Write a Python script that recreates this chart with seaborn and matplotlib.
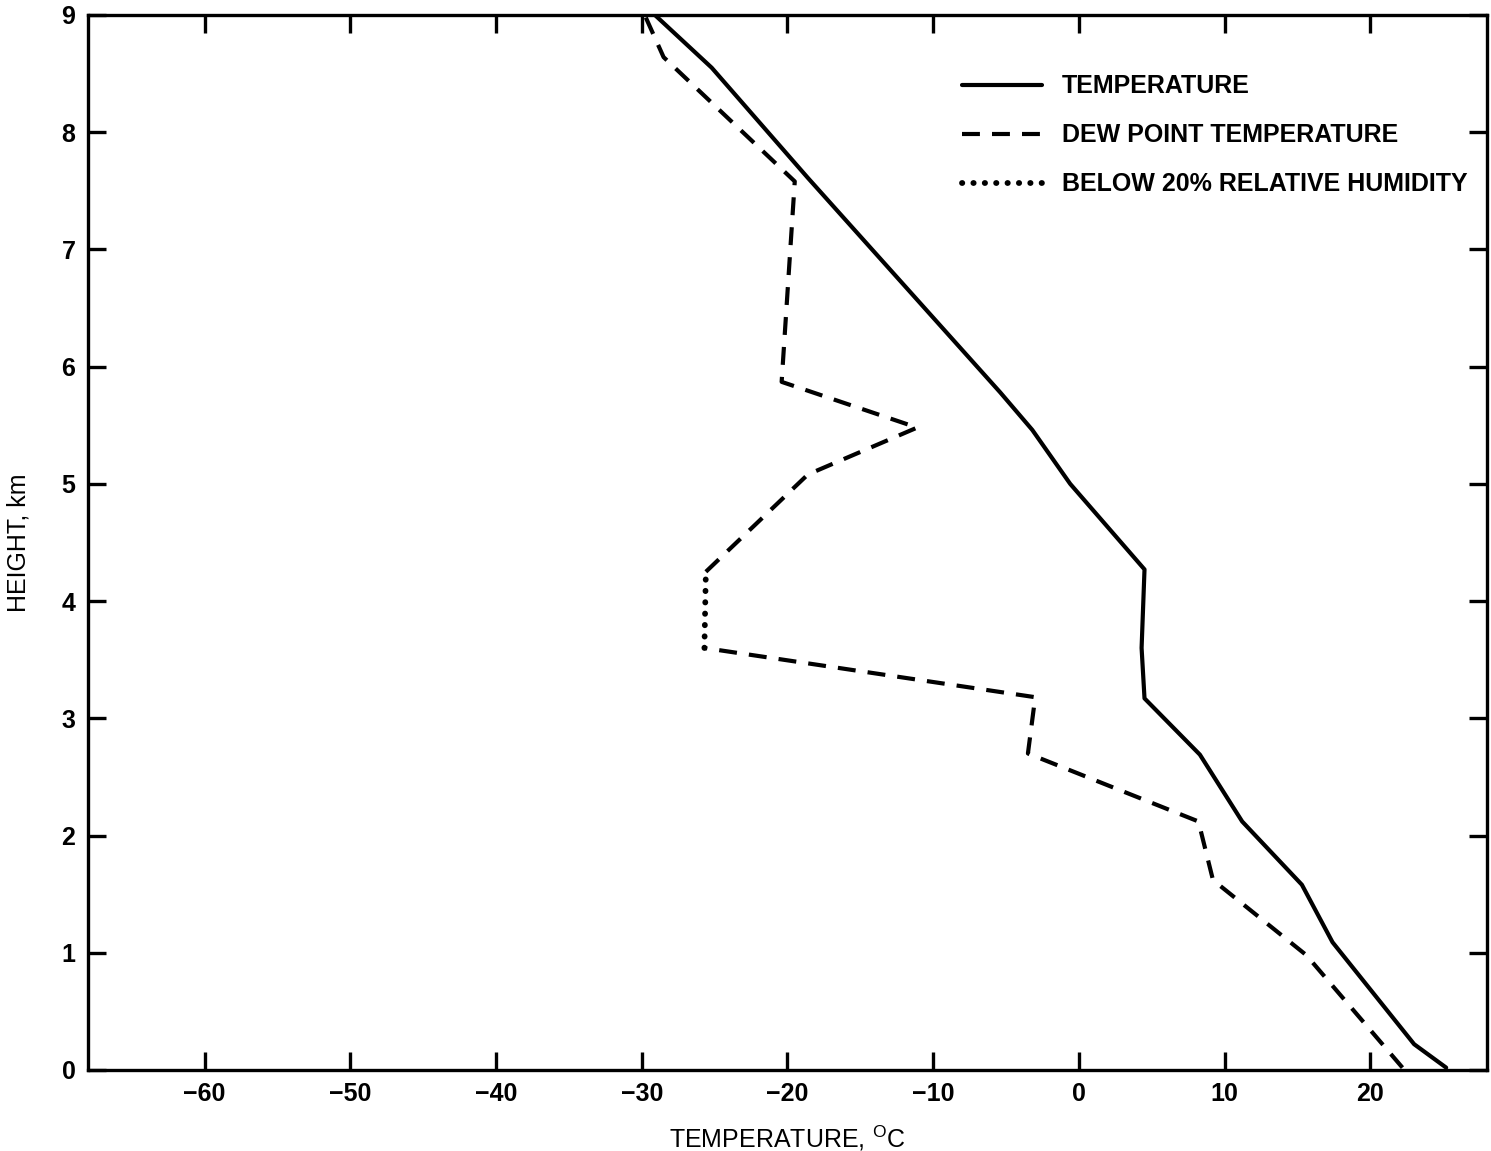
import matplotlib
matplotlib.use("Agg")
import matplotlib.pyplot as plt
import seaborn as sns

# temperature profile (deg C, km)
temp_c = [25.2, 23.0, 17.4, 15.3, 11.2, 8.3, 4.5, 4.3, 4.5, -0.6, -3.2, -5.4, -18.6, -25.2, -29.1]
temp_km = [0.02, 0.22, 1.09, 1.58, 2.12, 2.69, 3.17, 3.60, 4.27, 5.00, 5.46, 5.78, 7.61, 8.55, 9.0]

# dew point, lower part
dew_lo_c = [22.2, 15.6, 9.2, 8.2, -3.5, -3.0, -25.7]
dew_lo_km = [0.02, 0.98, 1.62, 2.12, 2.70, 3.18, 3.60]

# below 20% relative humidity
dry_c = [-25.7, -25.6]
dry_km = [3.60, 4.25]

# dew point, upper part
dew_hi_c = [-25.6, -18.6, -11.1, -20.4, -19.5, -28.5, -29.8]
dew_hi_km = [4.25, 5.08, 5.48, 5.87, 7.58, 8.64, 9.0]

x_ticks = [-60, -50, -40, -30, -20, -10, 0, 10, 20]
y_ticks = [0, 1, 2, 3, 4, 5, 6, 7, 8, 9]

sns.set_style("ticks")
plt.rcParams['font.family'] = ['Liberation Sans', 'DejaVu Sans']
plt.rcParams['mathtext.fontset'] = 'custom'
plt.rcParams['mathtext.rm'] = 'Liberation Sans'
plt.rcParams['mathtext.sf'] = 'Liberation Sans'
plt.rcParams['text.color'] = 'black'
plt.rcParams['axes.labelcolor'] = 'black'
plt.rcParams['axes.edgecolor'] = 'black'
plt.rcParams['xtick.color'] = 'black'
plt.rcParams['ytick.color'] = 'black'

fig = plt.figure(figsize=(14.91, 11.51), dpi=100)
ax = fig.add_axes([0.059, 0.0704, 0.9383, 0.9166])

lw = 3.0
dash = (4.3, 2.9)
sns.lineplot(x=temp_c, y=temp_km, sort=False, estimator=None, ax=ax,
             color="black", lw=lw, label="TEMPERATURE")
sns.lineplot(x=dew_lo_c, y=dew_lo_km, sort=False, estimator=None, ax=ax,
             color="black", lw=lw, label="DEW POINT TEMPERATURE")
ax.lines[-1].set_linestyle((0, dash))
sns.lineplot(x=dry_c, y=dry_km, sort=False, estimator=None, ax=ax,
             color="black", lw=4.2, label="BELOW 20% RELATIVE HUMIDITY")
ax.lines[-1].set_linestyle((0, (0.05, 1.9)))
ax.lines[-1].set_dash_capstyle("round")
sns.lineplot(x=dew_hi_c, y=dew_hi_km, sort=False, estimator=None, ax=ax,
             color="black", lw=lw, legend=False)
ax.lines[-1].set_linestyle((0, dash))

ax.set_xlim(-68, 28)
ax.set_ylim(0, 9)
ax.set_xticks(x_ticks)
ax.set_xticklabels([str(v).replace("-", "\u2212") for v in x_ticks])
ax.set_yticks(y_ticks)

for s in ax.spines.values():
    s.set_linewidth(2.4)
ax.tick_params(direction="in", length=13, width=2.4, labelsize=18,
               top=True, right=True, pad=9)
for t in ax.get_xticklabels() + ax.get_yticklabels():
    t.set_fontweight("bold")

ax.set_xlabel(r"TEMPERATURE, $^{\mathsf{O}}$C", fontsize=18, labelpad=12)
ax.set_ylabel("HEIGHT, km", fontsize=18, labelpad=22)

leg = ax.legend(loc="upper right", frameon=False, fontsize=18,
                handlelength=3.2, handletextpad=0.8, labelspacing=1.0,
                bbox_to_anchor=(1.002, 0.965))
for t in leg.get_texts():
    t.set_fontweight("bold")

fig.savefig("out.png", dpi=100)
